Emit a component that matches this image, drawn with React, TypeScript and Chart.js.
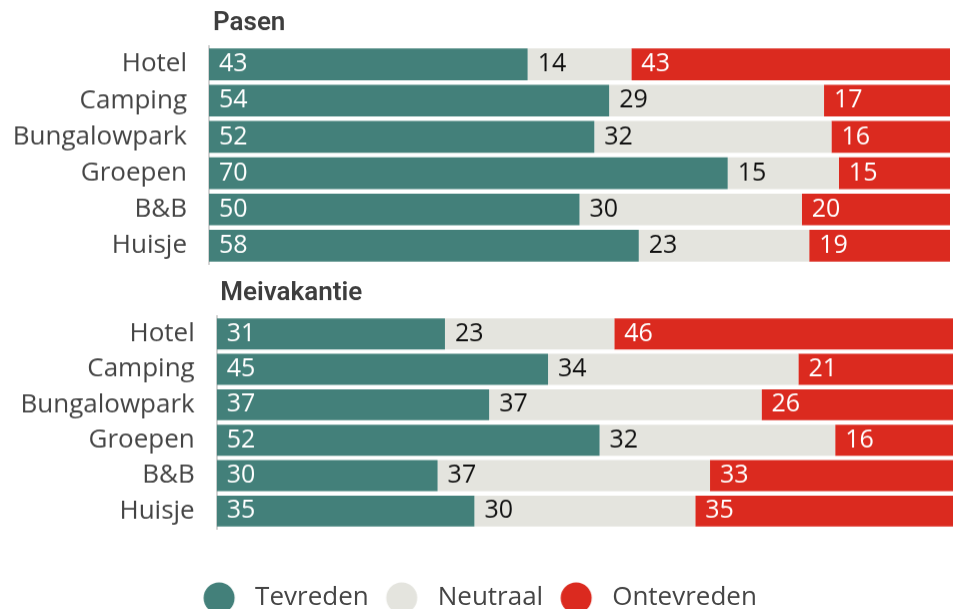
import React, { useEffect, useRef } from "react";
import { Chart, registerables } from "chart.js";

Chart.register(...registerables);

const categories = ["Hotel", "Camping", "Bungalowpark", "Groepen", "B&B", "Huisje"];
const seriesNames = ["Tevreden", "Neutraal", "Ontevreden"];
const seriesColors = ["#43807A", "#E4E4DE", "#DB2A1F"];

const pasenTevreden = [43, 54, 52, 70, 50, 58];
const pasenNeutraal = [14, 29, 32, 15, 30, 23];
const pasenOntevreden = [43, 17, 16, 15, 20, 19];

const meiTevreden = [31, 45, 37, 52, 30, 35];
const meiNeutraal = [23, 34, 37, 32, 37, 30];
const meiOntevreden = [46, 21, 26, 16, 33, 35];

const panelTitles = ["Pasen", "Meivakantie"];

const FONT = "'Open Sans', 'DejaVu Sans', sans-serif";
const TEXT_COLOR = "#444444";

function makeDot(color: string): HTMLCanvasElement {
  const c = document.createElement("canvas");
  c.width = 46;
  c.height = 32;
  const ctx = c.getContext("2d")!;
  ctx.fillStyle = color;
  ctx.beginPath();
  ctx.arc(23, 16, 15.5, 0, Math.PI * 2);
  ctx.fill();
  return c;
}

const valueLabels = {
  id: "valueLabels",
  afterDatasetsDraw(chart: any) {
    const ctx = chart.ctx;
    ctx.save();
    ctx.font = `400 25px ${FONT}`;
    ctx.textBaseline = "middle";
    ctx.textAlign = "left";
    chart.data.datasets.forEach((ds: any, di: number) => {
      const meta = chart.getDatasetMeta(di);
      meta.data.forEach((el: any, i: number) => {
        const { x, y, base } = el.getProps(["x", "y", "base"], true);
        ctx.fillStyle = di === 1 ? "#111111" : "#ffffff";
        ctx.fillText(String(ds.data[i]), Math.min(x, base) + 10, y);
      });
    });
    ctx.restore();
  },
};

const panelTitle = {
  id: "panelTitle",
  afterDraw(chart: any, _args: any, opts: any) {
    const ctx = chart.ctx;
    ctx.save();
    ctx.font = `600 26px Roboto, 'DejaVu Sans', sans-serif`;
    ctx.fillStyle = "#3d3d3d";
    ctx.textBaseline = "alphabetic";
    ctx.textAlign = "left";
    ctx.fillText(opts.text, chart.chartArea.left + opts.dx, chart.chartArea.top - opts.dy);
    ctx.restore();
  },
};

type PanelProps = {
  title: string;
  values: number[][];
  top: number;
  height: number;
  axisWidth: number;
  padTop: number;
  padRight: number;
  bottomSpace: number;
  titleDx: number;
  titleDy: number;
  showLegend: boolean;
};

function Panel(p: PanelProps) {
  const ref = useRef<HTMLCanvasElement | null>(null);
  useEffect(() => {
    if (!ref.current) return;
    const dots = seriesColors.map(makeDot);
    const chart = new Chart(ref.current, {
      type: "bar",
      data: {
        labels: categories,
        datasets: seriesNames.map((name, i) => ({
          label: name,
          data: p.values[i],
          backgroundColor: seriesColors[i],
          borderWidth: 0,
          barPercentage: 0.875,
          categoryPercentage: 1,
        })),
      },
      options: {
        indexAxis: "y",
        responsive: false,
        animation: false,
        devicePixelRatio: 1,
        layout: { padding: { top: p.padTop, right: p.padRight, bottom: 0, left: 0 } },
        scales: {
          x: {
            stacked: true,
            min: 0,
            max: 100,
            display: true,
            grid: { display: false },
            border: { display: false },
            ticks: { display: false },
            afterFit: (s: any) => {
              s.height = p.bottomSpace;
            },
          },
          y: {
            stacked: true,
            grid: { display: false, drawTicks: false },
            border: { display: true, color: "#d4d4d4", width: 2 },
            ticks: {
              color: TEXT_COLOR,
              font: { family: FONT, size: 26 },
              padding: 22,
              autoSkip: false,
            },
            afterFit: (s: any) => {
              s.width = p.axisWidth;
            },
          },
        },
        plugins: {
          tooltip: { enabled: false },
          title: { display: false },
          legend: {
            display: p.showLegend,
            position: "bottom",
            labels: {
              usePointStyle: true,
              pointStyleWidth: 46,
              padding: 10,
              color: TEXT_COLOR,
              font: { family: FONT, size: 26 },
              generateLabels: (c: any) =>
                c.data.datasets.map((ds: any, i: number) => ({
                  text: ds.label,
                  fillStyle: ds.backgroundColor,
                  strokeStyle: ds.backgroundColor,
                  lineWidth: 0,
                  pointStyle: dots[i],
                  hidden: false,
                  datasetIndex: i,
                  fontColor: TEXT_COLOR,
                })),
            },
          },
          panelTitle: { text: p.title, dx: p.titleDx, dy: p.titleDy },
        } as any,
      },
      plugins: [valueLabels, panelTitle],
    } as any);
    return () => chart.destroy();
  }, []);
  return (
    <canvas
      ref={ref}
      width={953}
      height={p.height}
      style={{ position: "absolute", left: 0, top: p.top, width: 953, height: p.height }}
    />
  );
}

export default function App() {
  return (
    <div
      style={{
        position: "fixed",
        left: 0,
        top: 0,
        width: 953,
        height: 609,
        overflow: "hidden",
        background: "#ffffff",
      }}
    >
      <Panel
        title={panelTitles[0]}
        values={[pasenTevreden, pasenNeutraal, pasenOntevreden]}
        top={0}
        height={303.5}
        axisWidth={209}
        padTop={46}
        padRight={3}
        bottomSpace={40}
        titleDx={4}
        titleDy={16}
        showLegend={false}
      />
      <Panel
        title={panelTitles[1]}
        values={[meiTevreden, meiNeutraal, meiOntevreden]}
        top={270}
        height={350.5}
        axisWidth={216.7}
        padTop={46}
        padRight={0}
        bottomSpace={46}
        titleDx={3.5}
        titleDy={16}
        showLegend={true}
      />
    </div>
  );
}
